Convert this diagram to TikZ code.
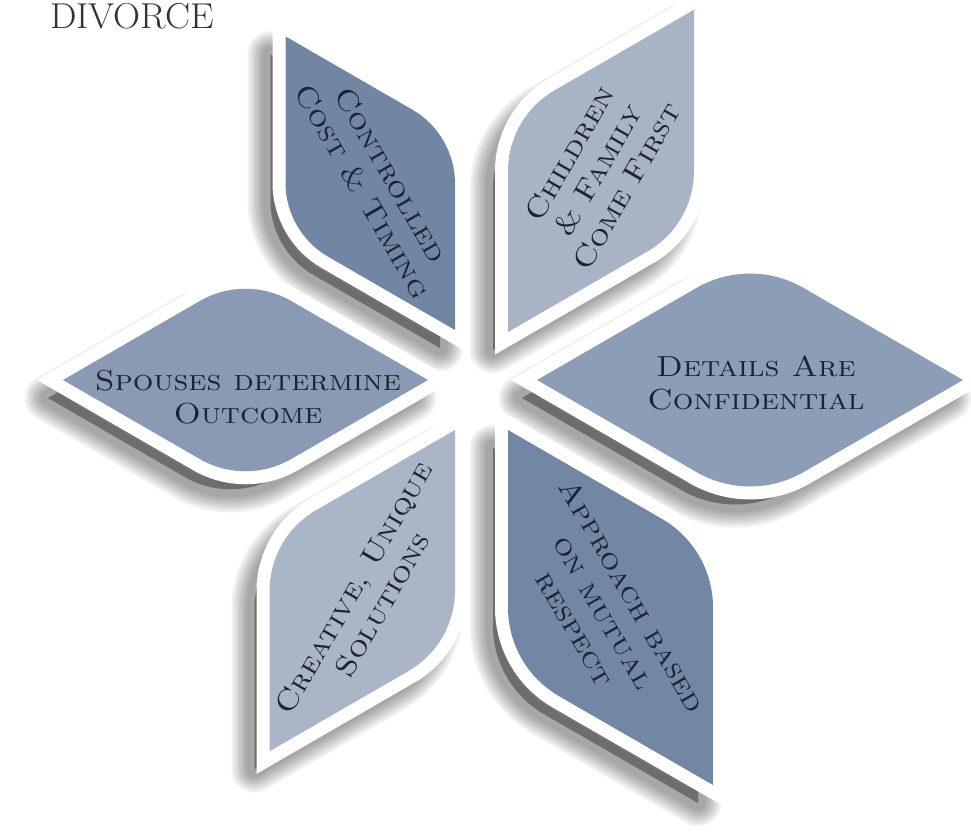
\documentclass[tikz,border=0pt]{standalone}
\usetikzlibrary{calc}
\definecolor{pdark}{HTML}{7086A3}
\definecolor{pdarkb}{HTML}{7287A4}
\definecolor{plight}{HTML}{A9B3C6}
\definecolor{plightb}{HTML}{ABB5C8}
\definecolor{pmid}{HTML}{8C9DB8}
\definecolor{pmidb}{HTML}{8A9AB5}
\definecolor{textc}{HTML}{1C2333}
\definecolor{titlec}{HTML}{333333}
% #1 inner tip, #2 rounded side corner, #3 outer tip, #4 rounded side corner, #5 rounding length, #6 handle
\newcommand\petalpath[6]{(#1) -- ($(#2)!#5!(#1)$) .. controls ($(#2)!#6!(#1)$) and ($(#2)!#6!(#3)$) .. ($(#2)!#5!(#3)$) -- (#3) -- ($(#4)!#5!(#3)$) .. controls ($(#4)!#6!(#3)$) and ($(#4)!#6!(#1)$) .. ($(#4)!#5!(#1)$) -- cycle}
\begin{document}
\begin{tikzpicture}[x=1pt,y=-1pt,
  lbl/.style={align=center, inner sep=0pt, text=textc, xscale=1.12, font=\fontsize{29}{33}\selectfont\scshape},
  border/.style={draw=white, line width=26pt},
  shade/.style={fill=black, draw=black, opacity=0.058, line join=round}]
\useasboundingbox (0,0) rectangle (971,838);
% petal corner coordinates
\coordinate (c1) at (455,330);   \coordinate (b1) at (455,134.3);
\coordinate (a1) at (285.5,36.4);\coordinate (d1) at (285.5,232.1);
\coordinate (c2) at (508,332);   \coordinate (b2) at (694,224.6);
\coordinate (a2) at (694,9.8);   \coordinate (d2) at (508,117.2);
\coordinate (c3) at (537,380);   \coordinate (b3) at (750,257);
\coordinate (a3) at (963,380);   \coordinate (d3) at (750,503);
\coordinate (c4) at (428,380);   \coordinate (b4) at (245.5,274.6);
\coordinate (a4) at (63,380);    \coordinate (d4) at (245.5,485.4);
\coordinate (c5) at (455,430);   \coordinate (b5) at (455,644.2);
\coordinate (a5) at (269.5,751.3);\coordinate (d5) at (269.5,537.1);
\coordinate (c6) at (508,430);   \coordinate (b6) at (713,548.4);
\coordinate (a6) at (713,785);   \coordinate (d6) at (508,666.7);
% soft drop shadows
\begin{scope}[transform canvas={shift={(-15,18)}}]
\foreach \w in {46,41,36,31,26,21,16}{
  \filldraw[shade, line width=\w pt] \petalpath{c1}{b1}{a1}{d1}{49pt}{19pt};
  \filldraw[shade, line width=\w pt] \petalpath{c2}{b2}{a2}{d2}{54pt}{20.5pt};
  \filldraw[shade, line width=\w pt] \petalpath{c3}{b3}{a3}{d3}{62pt}{23.5pt};
  \filldraw[shade, line width=\w pt] \petalpath{c4}{b4}{a4}{d4}{53pt}{20pt};
  \filldraw[shade, line width=\w pt] \petalpath{c5}{b5}{a5}{d5}{54pt}{20.5pt};
  \filldraw[shade, line width=\w pt] \petalpath{c6}{b6}{a6}{d6}{59pt}{22.5pt};
}
\end{scope}
% white borders
\draw[border] \petalpath{c1}{b1}{a1}{d1}{49pt}{19pt};
\draw[border] \petalpath{c2}{b2}{a2}{d2}{54pt}{20.5pt};
\draw[border] \petalpath{c3}{b3}{a3}{d3}{62pt}{23.5pt};
\draw[border] \petalpath{c4}{b4}{a4}{d4}{53pt}{20pt};
\draw[border] \petalpath{c5}{b5}{a5}{d5}{54pt}{20.5pt};
\draw[border] \petalpath{c6}{b6}{a6}{d6}{59pt}{22.5pt};
% fills
\fill[pdark]   \petalpath{c1}{b1}{a1}{d1}{49pt}{19pt};
\fill[plight]  \petalpath{c2}{b2}{a2}{d2}{54pt}{20.5pt};
\fill[pmid]    \petalpath{c3}{b3}{a3}{d3}{62pt}{23.5pt};
\fill[pmidb]   \petalpath{c4}{b4}{a4}{d4}{53pt}{20pt};
\fill[plightb] \petalpath{c5}{b5}{a5}{d5}{54pt}{20.5pt};
\fill[pdarkb]  \petalpath{c6}{b6}{a6}{d6}{59pt}{22.5pt};
% labels
\node[rotate=-60, lbl] (t1) at (377,183) {Controlled\\Cost \& Timing};
\node[rotate=60, lbl]  (t2) at (598,170) {Children\\\& Family\\Come First};
\node[lbl]             (t3) at (756,383) {Details Are\\Confidential};
\node[lbl]             (t4) at (248,397) {Spouses determine\\Outcome};
\node[rotate=60, lbl]  (t5) at (368,596) {Creative, Unique\\Solutions};
\node[rotate=-60, lbl] (t6) at (604,612) {Approach based\\on mutual\\respect};
\node[anchor=base west, inner sep=0pt, text=titlec, xscale=1.04, font=\fontsize{36}{40}\selectfont] (title) at (50,28) {DIVORCE};
\end{tikzpicture}
\end{document}
